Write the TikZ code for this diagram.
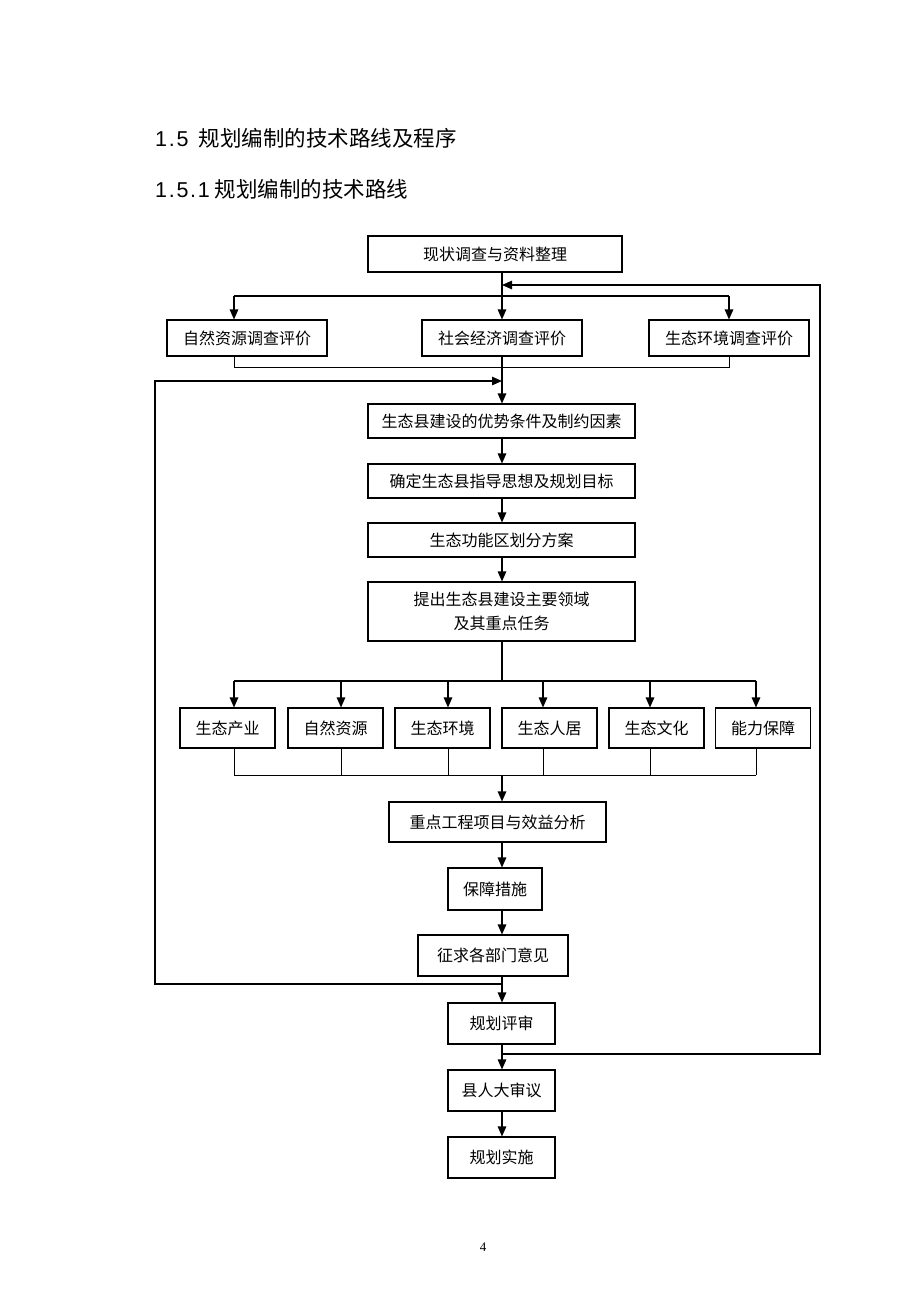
\documentclass[tikz,border=0pt]{standalone}
\usepackage{fontspec}
\setmainfont{Liberation Serif}
\newfontfamily\cjk{Noto Sans CJK SC}
\newfontfamily\hsans[LetterSpace=8]{Liberation Sans}
\usetikzlibrary{arrows.meta}
\begin{document}
\begin{tikzpicture}[x=1pt,y=-1pt,
  box/.style={draw, line width=1.1pt, inner sep=0pt, align=center,
    font=\cjk\fontsize{16}{24}\selectfont},
  arr/.style={line width=1.3pt, -{Triangle[length=10pt,width=8.5pt]}},
  ln/.style={line width=1pt},
  hd/.style={anchor=west, inner sep=0pt, font=\fontsize{21.5}{26}\selectfont}]
\useasboundingbox (0,0) rectangle (920,1302);

% headings
\node[hd] (h1) at (155,138) {{\hsans 1.5}\hspace{10pt}{\cjk 规划编制的技术路线及程序}};
\node[hd] (h2) at (155,189) {{\hsans 1.5.1}\hspace{5pt}{\cjk 规划编制的技术路线}};

% main column
\coordinate (cx) at (502,0);
\node[box, minimum width=254pt, minimum height=36pt] (b1) at (495,254) {现状调查与资料整理};
\node[box, minimum width=160pt, minimum height=36pt] (n1) at (247,338) {自然资源调查评价};
\node[box, minimum width=160pt, minimum height=36pt] (n2) at (502,338) {社会经济调查评价};
\node[box, minimum width=160pt, minimum height=36pt] (n3) at (729,338) {生态环境调查评价};
\node[box, minimum width=267pt, minimum height=34pt] (b2) at (501.5,421) {生态县建设的优势条件及制约因素};
\node[box, minimum width=267pt, minimum height=34pt] (b3) at (501.5,481) {确定生态县指导思想及规划目标};
\node[box, minimum width=267pt, minimum height=34pt] (b4) at (501.5,540) {生态功能区划分方案};
\node[box, minimum width=267pt, minimum height=59pt] (b5) at (501.5,611.5) {提出生态县建设主要领域\\及其重点任务};

\foreach \n/\x/\ax/\t in {1/227.5/234/生态产业, 2/335.5/341/自然资源, 3/442.5/448/生态环境,
    4/549.5/543/生态人居, 5/656.5/650/生态文化, 6/763/756/能力保障} {
  \node[box, minimum width=95pt, minimum height=40pt] (p\n) at (\x,728) {\t};
  \coordinate (pa\n) at (\ax,681);
  \coordinate (pb\n) at (\ax,775);
}

\node[box, minimum width=217pt, minimum height=40pt] (b6) at (497.5,822) {重点工程项目与效益分析};
\node[box, minimum width=94pt, minimum height=42pt] (b7) at (495,889) {保障措施};
\node[box, minimum width=150pt, minimum height=41pt] (b8) at (493,955.5) {征求各部门意见};
\node[box, minimum width=107pt, minimum height=41pt] (b9) at (501.5,1023.5) {规划评审};
\node[box, minimum width=107pt, minimum height=41pt] (b10) at (501.5,1090.5) {县人大审议};
\node[box, minimum width=107pt, minimum height=41pt] (b11) at (501.5,1157.5) {规划实施};

\node[font=\fontsize{13}{15}\selectfont, inner sep=0pt] (pg) at (483,1247) {4};

% top fan-out
\coordinate (a1) at (234,296);
\coordinate (a3) at (729,296);
\draw[line width=1.3pt] (a1) -- (a3);
\draw[arr] (a1) -- (a1 |- n1.north);
\draw[arr] (a3) -- (a3 |- n3.north);
\draw[arr] (b1.south -| cx) -- (n2.north);

% fan-in
\coordinate (m1) at (234,367);
\coordinate (m3) at (729,367);
\draw[ln] (n1.south -| m1) -- (m1) -- (m3) -- (n3.south -| m3);
\draw[arr] (n2.south) -- (b2.north -| cx);

% chain
\draw[arr] (b2.south -| cx) -- (b3.north -| cx);
\draw[arr] (b3.south -| cx) -- (b4.north -| cx);
\draw[arr] (b4.south -| cx) -- (b5.north -| cx);

% six-way fan-out
\draw[line width=1.3pt] (b5.south -| cx) -- (cx |- pa1);
\draw[line width=1.3pt] (pa1) -- (pa6);
\foreach \n in {1,...,6} {
  \draw[arr] (pa\n) -- (pa\n |- p\n.north);
  \draw[ln] (p\n.south -| pb\n) -- (pb\n);
}
\draw[ln] (pb1) -- (pb6);
\draw[arr] (cx |- pb1) -- (b6.north -| cx);

\draw[arr] (b6.south -| cx) -- (b7.north -| cx);
\draw[arr] (b7.south -| cx) -- (b8.north -| cx);
\draw[arr] (b8.south -| cx) -- (b9.north -| cx);
\draw[arr] (b9.south -| cx) -- (b10.north -| cx);
\draw[arr] (b10.south -| cx) -- (b11.north -| cx);

% left feedback loop
\coordinate (l1) at (502,984);
\coordinate (l2) at (502,381);
\coordinate (lc1) at (155,984);
\coordinate (lc2) at (155,381);
\draw[arr, line width=1.2pt] (l1) -- (lc1) -- (lc2) -- (l2);

% right feedback loop
\coordinate (r1) at (502,1054);
\coordinate (r2) at (502,285);
\coordinate (rc1) at (820,1054);
\coordinate (rc2) at (820,285);
\draw[arr, line width=1.2pt] (r1) -- (rc1) -- (rc2) -- (r2);
\end{tikzpicture}
\end{document}
